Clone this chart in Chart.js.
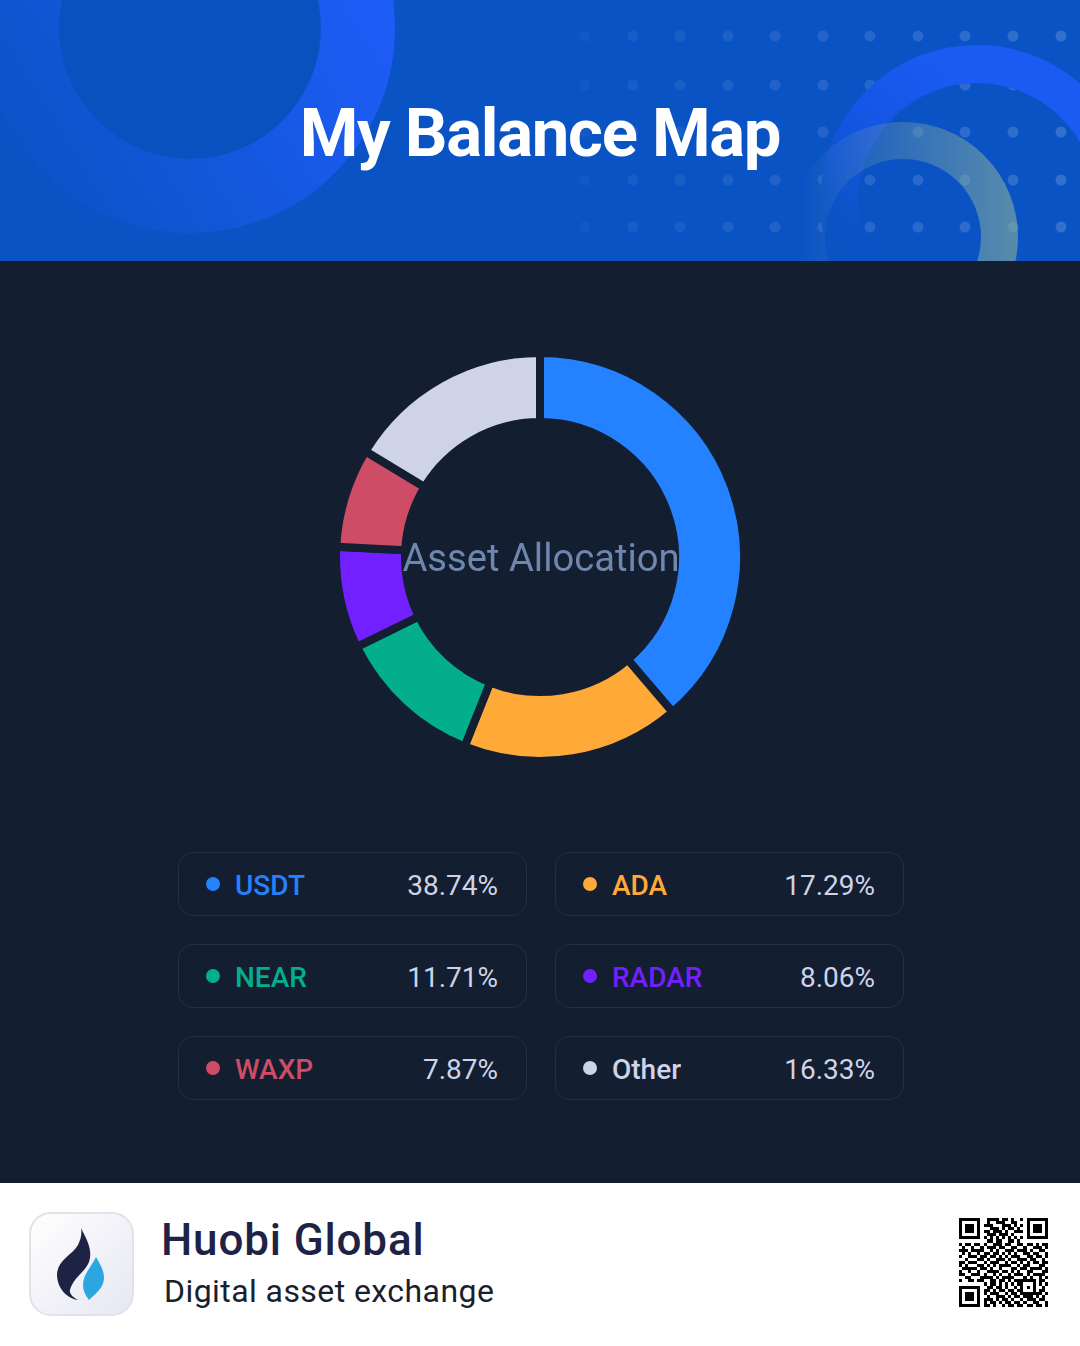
<!DOCTYPE html>
<html lang="en">
  <head>
    <meta charset="UTF-8" />
    <title>My Balance Map</title>
    <script src="https://cdn.jsdelivr.net/npm/chart.js"></script>
    <style>
      * { box-sizing: border-box; margin: 0; padding: 0; }
      html, body { width: 1080px; height: 1346px; overflow: hidden; background: #fff; }
      body { position: relative; font-family: Roboto, sans-serif; }
      #topo { position: absolute; left: 0; top: 0; width: 1080px; height: 261px; background: #0a53c4; overflow: hidden; }
      #topo svg { position: absolute; left: 0; top: 0; }
      #titulo { position: absolute; left: 0; top: 90px; width: 1080px; text-align: center; color: #fff;
        font-size: 67px; line-height: 86px; font-weight: 700; letter-spacing: -1.3px; }
      #meio { position: absolute; left: 0; top: 261px; width: 1080px; height: 922px; background: #131e30; }
      #areaGrafico { position: absolute; left: 332px; top: 349px; width: 416px; height: 416px; }
      #centro { position: absolute; left: 341px; top: 533px; width: 400px; text-align: center; color: #6f87ad;
        font-size: 38.2px; line-height: 50px; font-weight: 400; }
      .cartao { position: absolute; width: 349px; height: 64px; border: 1px solid #243144; border-radius: 15px; }
      .bolinha { position: absolute; left: 27px; top: 24px; width: 14px; height: 14px; border-radius: 50%; }
      .nome { position: absolute; left: 56px; top: 14px; font-size: 28px; line-height: 38px; font-weight: 500; }
      .valor { position: absolute; right: 28px; top: 14px; font-size: 28px; line-height: 38px; color: #ced3e8; }
      #logo { position: absolute; left: 29px; top: 1212px; width: 105px; height: 104px; border-radius: 22px;
        border: 2px solid #e1e2ea; background: linear-gradient(135deg, #ffffff, #e6e7f2); }
      #empresa { position: absolute; left: 161px; top: 1212px; font-size: 44px; line-height: 56px; font-weight: 500; color: #1e2345; letter-spacing: 0.85px; }
      #lema { position: absolute; left: 164px; top: 1270px; font-size: 32px; line-height: 42px; color: #1a1f2e; letter-spacing: 0.43px; }
      #qr { position: absolute; left: 959px; top: 1218px; }
    </style>
  </head>
  <body>
    <section id="topo">
      <svg id="fundoTopo" width="1080" height="261" xmlns="http://www.w3.org/2000/svg">
        <defs>
          <linearGradient id="gradGrande" gradientUnits="userSpaceOnUse" x1="380" y1="20" x2="40" y2="230">
            <stop offset="0" stop-color="#1e5cf6" />
            <stop offset="1" stop-color="#0a53c4" />
          </linearGradient>
          <linearGradient id="gradMedio" gradientUnits="userSpaceOnUse" x1="980" y1="90" x2="850" y2="240">
            <stop offset="0" stop-color="#1b5bf2" />
            <stop offset="0.45" stop-color="#1556e6" />
            <stop offset="1" stop-color="#0a53c4" />
          </linearGradient>
          <linearGradient id="gradPequeno" gradientUnits="userSpaceOnUse" x1="800" y1="200" x2="1010" y2="200">
            <stop offset="0" stop-color="#8fb0a8" stop-opacity="0" />
            <stop offset="1" stop-color="#83ab9c" stop-opacity="0.62" />
          </linearGradient>
        </defs>
        <circle cx="190" cy="28" r="132" fill="#0a51c0" />
        <circle cx="190" cy="28" r="168" fill="none" stroke="url(#gradGrande)" stroke-width="74" />
        <g id="pontos"></g>
        <circle cx="977" cy="202" r="138" fill="none" stroke="url(#gradMedio)" stroke-width="38" />
        <circle cx="903" cy="237" r="96.5" fill="none" stroke="url(#gradPequeno)" stroke-width="37" />
      </svg>
      <h1 id="titulo">My Balance Map</h1>
    </section>

    <section id="meio"></section>
    <div id="areaGrafico"><canvas id="graficoAlocacao" width="416" height="416"></canvas></div>
    <div id="centro">Asset Allocation</div>
    <div id="legenda"></div>

    <div id="logo"></div>
    <svg style="position: absolute; left: 29px; top: 1212px" width="105" height="104" xmlns="http://www.w3.org/2000/svg">
      <path d="M52 16 C58 28 64 38 60 50 C56 60 44 66 41 78 C40 82 45 86 49 88 C40 87 28 78 28 62 C29 48 42 44 49 33 C52 27 53 22 52 16 Z" fill="#1e2345" />
      <path d="M67 45 C71 52 75 58 75 66 C75 76 66 82 60 88 C56 83 54 78 54 73 C54 62 63 54 67 45 Z" fill="#2ca6e0" />
    </svg>
    <div id="empresa">Huobi Global</div>
    <div id="lema">Digital asset exchange</div>
    <svg id="qr" width="90" height="90" xmlns="http://www.w3.org/2000/svg" shape-rendering="crispEdges"></svg>

    <script>
      // dados do grafico
      const ativos = ["USDT", "ADA", "NEAR", "RADAR", "WAXP", "Other"];
      const percentuais = [38.74, 17.29, 11.71, 8.06, 7.87, 16.33];
      const cores = ["#2481ff", "#ffa939", "#03ae8f", "#7220ff", "#cf4c66", "#ced3e8"];

      // pontos do fundo azul
      const linhasPontos = [36, 85, 132, 180, 227];
      const colunasPontos = [585, 633, 680, 728, 775, 823, 870, 918, 965, 1013, 1061];

      // desenho aproximado do qr code, os blocos fixos sao desenhados depois
      const qrLinhas = [
        "00000000011110110100100000000",
        "00000000010011100110000000000",
        "00000000111000111010100000000",
        "00000000001110101101000000000",
        "00000000110111010011100000000",
        "00000000011101110100000000000",
        "00000000101010101010100000000",
        "00000000011011001101000000000",
        "10110110100111011001101101011",
        "01001001011101100110010011101",
        "11101111001010011101110100110",
        "01010010110110101010011011001",
        "10011101101101010111001101101",
        "00100011010011101001110110010",
        "11011100101110010110101011011",
        "10100011010101111001011000110",
        "01111101101001000110110111101",
        "10010010011110110101001100011",
        "11001110100101001011101011110",
        "00110001111010111100010100101",
        "10011011001101101011000000110",
        "00000000101101010101000000101",
        "00000000011011010010000000010",
        "00000000110101101101000000110",
        "00000000101110010110000001101",
        "00000000010011101011011101010",
        "00000000111010110100101110110",
        "00000000101101011011010011001",
        "00000000110100101101101101101",
      ];

      const NS = "http://www.w3.org/2000/svg";

      function criarSvg(pai, tag, attrs) {
        const el = document.createElementNS(NS, tag);
        for (const k in attrs) el.setAttribute(k, attrs[k]);
        pai.appendChild(el);
        return el;
      }

      // pontos ficam mais fortes para a direita
      const grupoPontos = document.getElementById("pontos");
      linhasPontos.forEach(function (y) {
        colunasPontos.forEach(function (x) {
          criarSvg(grupoPontos, "ellipse", {
            cx: x, cy: y, rx: 5.5, ry: 5.5, fill: "#fff",
            "fill-opacity": 0.04 + ((x - 585) / 476) * 0.13,
          });
        });
      });

      // legenda em cartoes, duas colunas
      const legenda = document.getElementById("legenda");
      ativos.forEach(function (nome, i) {
        const cartao = document.createElement("div");
        cartao.className = "cartao";
        cartao.style.left = (i % 2 === 0 ? 178 : 555) + "px";
        cartao.style.top = 852 + Math.floor(i / 2) * 92 + "px";
        cartao.innerHTML =
          '<span class="bolinha" style="background:' + cores[i] + '"></span>' +
          '<span class="nome" style="color:' + cores[i] + '">' + nome + "</span>" +
          '<span class="valor">' + percentuais[i].toFixed(2) + "%</span>";
        legenda.appendChild(cartao);
      });

      // qr code
      const qr = document.getElementById("qr");
      const modulo = 89 / 29;
      function quadrado(col, lin, tam, cor) {
        criarSvg(qr, "rect", { x: col * modulo, y: lin * modulo, width: tam * modulo, height: tam * modulo, fill: cor });
      }
      qrLinhas.forEach(function (linha, l) {
        linha.split("").forEach(function (c, k) {
          if (c === "1") quadrado(k, l, 1, "#000");
        });
      });
      [[0, 0], [22, 0], [0, 22]].forEach(function (p) {
        quadrado(p[0], p[1], 7, "#000");
        quadrado(p[0] + 1, p[1] + 1, 5, "#fff");
        quadrado(p[0] + 2, p[1] + 2, 3, "#000");
      });
      quadrado(20, 20, 5, "#000");
      quadrado(21, 21, 3, "#fff");
      quadrado(22, 22, 1, "#000");

      // grafico em rosca, a borda na cor do fundo faz o vao entre as fatias
      const ctx = document.getElementById("graficoAlocacao");
      new Chart(ctx, {
        type: "doughnut",
        data: {
          labels: ativos,
          datasets: [
            {
              data: percentuais,
              backgroundColor: cores,
              borderColor: "#131e30",
              borderWidth: 8,
              borderJoinStyle: "miter",
            },
          ],
        },
        options: {
          responsive: false,
          animation: false,
          cutout: "66.18%",
          layout: { padding: 0 },
          plugins: {
            legend: { display: false },
            tooltip: { enabled: false },
          },
        },
      });
    </script>
  </body>
</html>
